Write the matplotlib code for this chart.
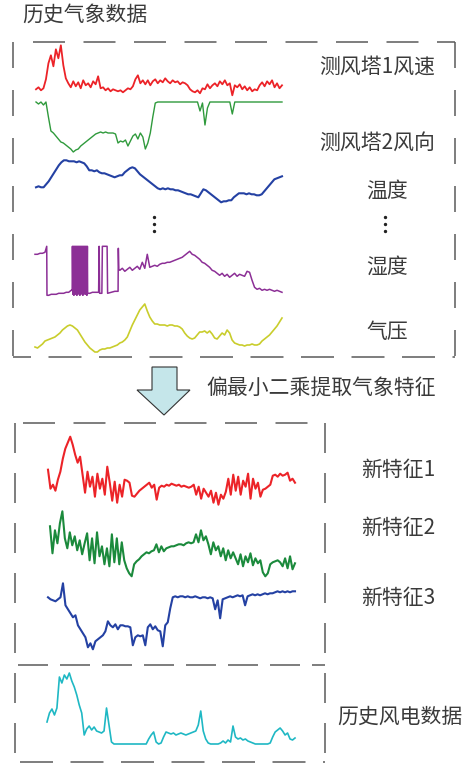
import numpy as np
import matplotlib.pyplot as plt
from matplotlib.patches import Polygon

plt.rcParams['font.family'] = ['Noto Sans CJK SC', 'DejaVu Sans']
plt.rcParams['lines.scale_dashes'] = False

# ---- data (arbitrary height units, one sample per step) ----
tower1_speed = [4, 6, 3, 5, 14, 30, 38, 27, 44, 35, 48, 28, 15,
                10, 6, 12, 7, 11, 5, 13, 8, 10, 6, 12, 9, 17,
                5, 6, 3, 5, 2, 4, 3, 2, 3, 1, 3, 5, 4, 7,
                14, 18, 10, 13,
                9, 13, 8, 12, 14, 10, 13, 11, 15, 12, 10, 13, 11, 12, 9, 11, 10, 8,
                4, 2, 1, 3, 0, 5, 4, 9, 5, 8, 10, 7, 12, 9, 13, 8, 10, -2,
                8, 6, 9, 4, 7, 3, 6, 2, 4, 3, 8, 11, 7, 12, 9, 13, 6, 10, 5, 8]
tower2_dir = [53, 51, 53, 50, 53, 38, 24, 22, 19, 16, 13, 12, 10, 8, 6, 3, 5,
              6, 9, 11, 13, 15, 17, 19, 21, 22, 23, 22, 23, 22, 22, 22, 21,
              12, 14, 13, 15, 9, 14, 19, 21, 16, 22, 18, 6, 12, 22, 38, 52,
              53, 53, 53, 53, 53, 53, 53, 53, 53, 53, 53, 53, 53, 53, 53, 53, 53,
              44, 52, 30, 47, 53, 53, 53, 53, 53, 53, 53, 53, 53, 41,
              53, 53, 53, 53, 53, 53, 53, 53, 53, 53, 53, 53, 53, 53, 53, 53, 53, 53, 53, 53]
temperature = [16, 17, 16, 16, 19, 22, 26, 30, 34, 38, 41, 43, 43, 42, 42, 42, 41, 42, 41, 40,
               37, 33, 33, 32, 33, 31, 30, 30, 29, 28, 27, 26, 27, 28, 28, 31, 33, 35, 36, 35,
               32, 29, 27, 25, 23, 21, 19, 17, 15, 14, 15, 14, 15, 14, 14, 13, 13, 12,
               11, 10, 9, 9, 8, 7, 6, 10, 14, 13, 11, 9, 7, 5, 3, 1, 2, 2, 3, 3,
               6, 8, 10, 10, 10, 9, 10, 9, 9, 8, 8, 9, 12, 15, 18, 21, 24, 25, 26, 27]
# humidity has irregular time stamps (the sensor flips between two levels)
humidity_t = ([0, 1, 2, 3, 4, 4.7, 4.8, 5.5, 6.5, 7.5, 8.5, 9.5, 10.5, 11.5, 12.5, 13.5, 14.5, 14.9,
               15.0, 15.2, 15.4, 15.6, 15.8, 16.0, 16.2, 16.4, 16.6, 16.8, 17.0, 17.2, 17.4, 17.6,
               17.8, 18.0, 18.2, 18.4, 18.6, 18.8, 19.0, 19.2, 19.4, 19.6, 19.8, 20.0, 20.2, 20.4,
               20.6, 20.8, 21.0, 21.1, 22, 23, 24, 25.5, 25.7, 25.9, 26.8, 27.0, 28.9, 29.1,
               30.5, 32, 33.3, 33.4, 33.6]
              + list(range(34, 100)))
humidity = [44, 44, 45, 45, 46, 52, 3, 3, 4, 4, 4, 5, 5, 5, 6, 6, 8, 8,
            52, 4, 52, 3, 52, 5, 52, 4, 52, 3, 52, 4, 52, 5, 52, 3,
            52, 4, 52, 5, 52, 3, 52, 4, 52, 5, 52, 4, 52, 3, 52, 5,
            5, 6, 6, 6, 52, 5, 5, 52, 52, 5,
            6, 7, 7, 50, 29,
            28, 30, 27, 29, 31, 28, 30, 32, 29, 36, 30, 44, 31, 32, 33, 32, 34, 35, 35, 36,
            36, 37, 38, 39, 40, 41, 43, 45, 47, 44, 43, 41, 39, 36, 35, 33, 31, 28, 27, 25,
            23, 25, 22, 24, 21, 23, 25, 22, 24, 23, 22, 27, 26, 18, 11, 9, 10, 8, 9, 8,
            9, 8, 7, 8, 7, 6]
pressure = [8, 7, 9, 11, 14, 15, 16, 17, 18, 20, 22, 25, 27, 29, 30, 29, 27, 25,
            21, 17, 13, 10, 7, 5, 3, 3, 5, 6, 6, 7, 7, 8, 9, 10, 12, 13, 15, 18,
            24, 30, 35, 40, 45, 48, 51, 44, 38, 34, 31,
            31, 30, 30, 30, 29, 30, 30, 29, 29, 28, 26, 22, 19, 17, 16, 17, 20, 23,
            23, 24, 22, 24, 21, 17, 16, 19, 22, 20, 25, 22, 15, 12, 11,
            10, 10, 9, 10, 10, 11, 10, 10, 11, 14, 16, 18, 20, 23, 26, 29, 33, 37]

feature1 = [37, 18, 22, 16, 27, 35, 48, 58, 64, 70, 62, 52, 44, 50,
            32, 14, 35, 20, 30, 10, 33, 18, 28, 12, 40, 24, 6, 25, 4, 22, 10,
            27, 26, 24, 11, 10, 13, 16, 18, 20, 22, 24, 19, 22, 7,
            19, 21, 20, 22, 21, 23, 22, 21, 22, 20, 21, 20, 19, 20,
            22, 12, 20, 8, 18, 14, 10, 16, 4, 14, 2, 12, 8, 15, 28, 12, 32,
            16, 30, 12, 26, 20, 33, 8, 28, 18, 24, 10, 17, 18, 20, 22,
            31, 32, 30, 33, 31, 32, 34, 26, 28, 24]
feature2 = [52, 25, 48, 35, 55, 67, 40, 30, 46, 33, 42, 28, 38, 24, 35,
            45, 18, 40, 15, 46, 22, 32, 14, 30, 12, 44, 16, 40, 14, 36, 18, 10, 5, 2,
            14, 17, 19, 22, 24, 26, 25, 27, 28, 34, 26, 32, 27,
            30, 31, 32, 32, 33, 34, 34, 33, 35, 36, 35, 36, 44, 36, 48, 38, 42,
            34, 24, 36, 28, 32, 22, 30, 18, 28, 20, 26,
            20, 14, 24, 12, 22, 16, 25, 13, 20, 15, 18, 6, 2, 5,
            14, 16, 17, 18, 16, 12, 20, 10, 22, 9, 15]
feature3 = [56, 54, 53, 52, 54, 56, 70, 48, 44, 40, 36, 38, 28, 24, 20, 16, 6, 10, 4,
            12, 14, 16, 18, 22, 32, 28, 26, 29, 24, 28, 28, 27, 27, 26, 8,
            16, 18, 17, 18, 8, 26, 29, 24, 27, 23, 22, 7, 28, 31, 45, 56,
            57, 56, 57, 57, 56, 57, 56, 56, 57, 56, 55, 56, 56, 55, 56, 55,
            44, 53, 35, 54, 55, 56, 57, 56, 57, 58, 57, 58, 48,
            57, 58, 59, 58, 59, 58, 59, 60, 59, 60, 60,
            61, 62, 61, 62, 61, 62, 61, 62, 62]
wind_power = [23, 32, 36, 30, 37, 68, 62, 70, 66, 72, 64, 58, 50, 40, 32, 10,
              16, 19, 15, 18, 14, 13, 12, 14, 37, 20, 3,
              1, 1, 1, 1, 1, 1, 1, 1, 1, 1, 1, 1, 1, 1,
              6, 10, 13, 3, 1, 2, 8, 13, 12,
              11, 12, 10, 11, 12, 11, 10, 11, 12, 13, 14, 20, 34, 14, 6, 2,
              1, 1, 1, 1, 2, 4, 2, 5, 3, 19, 8, 6, 7, 5, 6, 4, 3, 2,
              1, 1, 1, 1, 1, 1, 2, 8, 13, 15, 17, 14, 10, 12, 6, 5, 7]

W, H = 465, 763
fig = plt.figure(figsize=(W / 100, H / 100), dpi=100)

# overlay axes in pixel units for boxes, arrow and labels
bg = fig.add_axes([0, 0, 1, 1])
bg.set_xlim(0, W)
bg.set_ylim(H, 0)
bg.axis('off')

box_color = '#5a5a5a'
text_color = '#3a3a3a'


def dashed(x0, y0, x1, y1, dash=32, gap=18, offset=0):
    bg.plot([x0, x1], [y0, y1], color=box_color, lw=1.1,
            linestyle=(offset * 0.72, (dash * 0.72, gap * 0.72)),
            dash_capstyle='butt')


def series(vals, x0, x1, base, color, lw, t=None):
    # one small axes per trace, 1 unit = 1 px vertically
    if t is None:
        t = np.arange(len(vals))
    ax = fig.add_axes([x0 / W, (H - base) / H, (x1 - x0) / W, 80 / H])
    ax.plot(t, vals, color=color, lw=lw, clip_on=False)
    ax.set_xlim(t[0], t[-1])
    ax.set_ylim(0, 80)
    ax.axis('off')


# top box
dashed(33, 42, 455, 42, 32, 18.5)
dashed(13, 42, 13, 357, 26, 22)
dashed(455, 42, 455, 357, 26, 22)
dashed(13, 357, 455, 357, 33, 17.5, 15)

# bottom boxes
dashed(23, 423, 325, 423, 32, 18.5)
dashed(15, 423, 15, 762, 30, 20)
dashed(325, 423, 325, 762, 30, 20)
dashed(18, 665, 325, 665, 30, 12)
dashed(20, 762, 325, 762, 33, 17.5)

# top traces
series(tower1_speed, 36, 282, 93.3, '#ec2328', 1.3)
series(tower2_dir, 36, 282, 155, '#2f9a3c', 1.0)
series(temperature, 36, 282, 203.3, '#2441a3', 1.5)
series(humidity, 35, 282, 298.3, '#8c2f96', 1.1, humidity_t)
series(pressure, 35, 282, 355, '#c9cd2c', 1.2)

# bottom traces
series(feature1, 48, 295, 506.7, '#ec2328', 1.5)
series(feature2, 50, 295, 578.3, '#1b8a3c', 1.5)
series(feature3, 48, 295, 653.3, '#2441a3', 1.5)
series(wind_power, 47, 295, 745, '#1fb8c4', 1.2)

# arrow
arrow = Polygon([(152, 367), (177, 367), (177, 390), (190, 390), (164, 415),
                 (137, 390), (152, 390)], closed=True,
                facecolor='#c5e6ea', edgecolor='#333333', lw=0.8)
bg.add_patch(arrow)

# vertical ellipsis
for x in (154, 385):
    bg.scatter([x, x, x], [217, 224, 231], s=2, color='#222222')

fs = 15
bg.text(22, 15, '历史气象数据', fontsize=fs, color=text_color, ha='left', va='center')
bg.text(377, 67, '测风塔1风速', fontsize=fs, color=text_color, ha='center', va='center')
bg.text(377, 143, '测风塔2风向', fontsize=fs, color=text_color, ha='center', va='center')
bg.text(387, 191, '温度', fontsize=fs, color=text_color, ha='center', va='center')
bg.text(387, 267, '湿度', fontsize=fs, color=text_color, ha='center', va='center')
bg.text(387, 332, '气压', fontsize=fs, color=text_color, ha='center', va='center')
bg.text(321, 388, '偏最小二乘提取气象特征', fontsize=fs, color=text_color, ha='center', va='center')
bg.text(398, 470, '新特征1', fontsize=fs, color=text_color, ha='center', va='center')
bg.text(398, 528, '新特征2', fontsize=fs, color=text_color, ha='center', va='center')
bg.text(398, 598, '新特征3', fontsize=fs, color=text_color, ha='center', va='center')
bg.text(400, 717, '历史风电数据', fontsize=fs, color=text_color, ha='center', va='center')

fig.savefig('out.png', dpi=100)
